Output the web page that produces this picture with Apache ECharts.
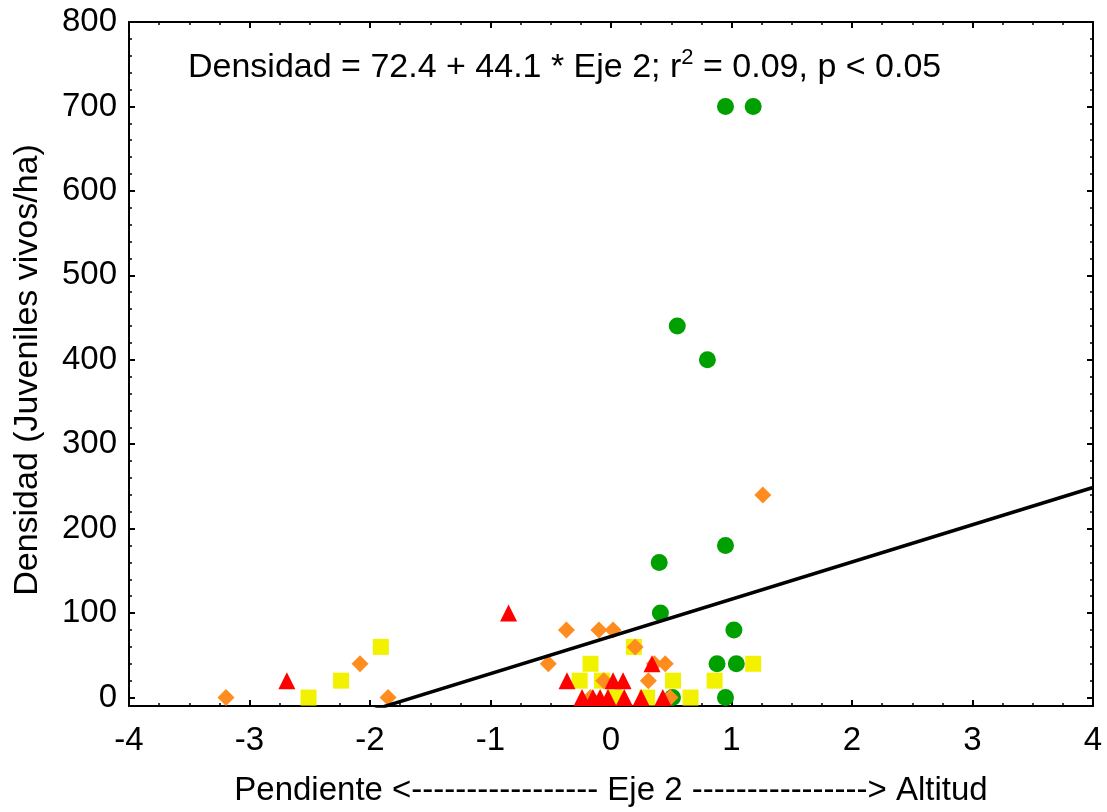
<!DOCTYPE html>
<html>
<head>
<meta charset="utf-8">
<title>Densidad vs Eje 2</title>
<script src="https://cdn.jsdelivr.net/npm/echarts@6/dist/echarts.min.js"></script>
<style>
  html, body { margin: 0; padding: 0; background: #ffffff; }
  #chart { width: 1107px; height: 812px; }
</style>
</head>
<body>
<div id="chart"></div>
<script>
// Eje 2 scores (x) and juvenile density (y) for each group of plots
const greenX = [0.95, 1.18, 0.55, 0.80, 0.40, 0.95, 0.41, 1.02, 0.88, 1.04, 0.95, 0.51];
const greenY = [700, 700, 440, 400, 160, 180, 100, 80, 40, 40, 0, 0];

const yellowX = [-2.51, -2.24, -1.91, -0.17, -0.26, -0.075, 0.19, 0.515, 0.86, 1.18, 0.66, 0.30, 0.03];
const yellowY = [0, 20, 60, 40, 20, 20, 60, 20, 20, 40, 0, 0, 0];

const orangeX = [-3.195, -2.083, -1.85, -0.52, -0.37, -0.10, 0.017, 0.20, -0.06, 0.31, 0.45, 0.36, 0.49, 1.26, -0.17];
const orangeY = [0, 40, 0, 40, 80, 80, 80, 60, 20, 20, 40, 40, 0, 240, 0];

const redX = [-2.69, -0.85, -0.365, 0.017, 0.10, 0.34, -0.24, -0.15, -0.09, -0.025, 0.11, 0.25, 0.43];
const redY = [20, 100, 20, 20, 20, 40, 0, 0, 0, 0, 0, 0, 0];

// Fitted regression: Densidad = 72.4 + 44.1 * Eje 2
const fitIntercept = 72.4;
const fitSlope = 44.1;
const fitRangeX = [-4, 4];

// Axis ticks
const xTicks = [-4, -3, -2, -1, 0, 1, 2, 3, 4];
const yTicks = [0, 100, 200, 300, 400, 500, 600, 700, 800];
const yMinorStep = 20;

const xAxisTitle = 'Pendiente <----------------- Eje 2 ----------------> Altitud';
const yAxisTitle = 'Densidad (Juveniles vivos/ha)';
const fitText = ['Densidad = 72.4 + 44.1 * Eje 2; r', '2', ' = 0.09, p < 0.05'];

const yMinorTicks = [];
for (let v = yTicks[0]; v <= yTicks[yTicks.length - 1]; v += yMinorStep) yMinorTicks.push(v);

const pairs = (xs, ys) => xs.map((x, i) => [x, ys[i]]);
const fitLine = fitRangeX.map(x => [x, fitIntercept + fitSlope * x]);

const FONT = '"Liberation Sans", Arial, sans-serif';
const BLACK = '#000000';
const TICK_FONT = 33;
const NAME_FONT = 33;

const xBase = {
  type: 'value',
  min: xTicks[0],
  max: xTicks[xTicks.length - 1],
  interval: 1,
  axisLine: { show: true, onZero: false, lineStyle: { color: BLACK, width: 2 } },
  axisTick: { show: true, inside: true, length: 6, lineStyle: { color: BLACK, width: 2 } },
  minorTick: { show: true, splitNumber: 4, length: 3, lineStyle: { color: BLACK, width: 1.5 } },
  splitLine: { show: false },
  minorSplitLine: { show: false }
};

const yBase = {
  type: 'value',
  min: -10,
  max: 800,
  axisLine: { show: true, onZero: false, lineStyle: { color: BLACK, width: 2 } },
  splitLine: { show: false }
};

const chart = echarts.init(document.getElementById('chart'), null, { renderer: 'canvas' });

chart.setOption({
  backgroundColor: '#ffffff',
  animation: false,
  graphic: [
    {
      // regression equation
      type: 'text',
      x: 188,
      y: 66,
      z: 10,
      style: {
        text: '{a|' + fitText[0] + '}{s|' + fitText[1] + '}{a|' + fitText[2] + '}',
        align: 'left',
        verticalAlign: 'middle',
        rich: {
          a: { fontSize: 34, fontFamily: FONT, fill: BLACK, lineHeight: 38, verticalAlign: 'bottom' },
          s: { fontSize: 22, fontFamily: FONT, fill: BLACK, lineHeight: 38, verticalAlign: 'top' }
        }
      }
    },
    {
      // vertical axis title
      type: 'text',
      x: 28,
      y: 370,
      rotation: Math.PI / 2,
      z: 10,
      style: {
        text: yAxisTitle,
        align: 'center',
        verticalAlign: 'middle',
        fontSize: 34,
        fontFamily: FONT,
        fill: BLACK
      }
    }
  ],
  grid: { left: 129, right: 14, top: 22, bottom: 105, containLabel: false },
  xAxis: [
    Object.assign({}, xBase, {
      position: 'bottom',
      axisLabel: { show: true, fontSize: TICK_FONT, fontFamily: FONT, color: BLACK, margin: 18 },
      name: xAxisTitle,
      nameLocation: 'middle',
      nameGap: 68,
      nameTextStyle: { fontSize: NAME_FONT, fontFamily: FONT, color: BLACK }
    }),
    Object.assign({}, xBase, {
      position: 'top',
      axisLabel: { show: false }
    })
  ],
  yAxis: [
    Object.assign({}, yBase, {
      position: 'left',
      axisTick: { show: true, inside: true, length: 6, customValues: yTicks, lineStyle: { color: BLACK, width: 2 } },
      axisLabel: { show: true, customValues: yTicks, fontSize: TICK_FONT, fontFamily: FONT, color: BLACK, margin: 12 }
    }),
    Object.assign({}, yBase, {
      position: 'left',
      axisLine: { show: false, onZero: false },
      axisTick: { show: true, inside: true, length: 3, customValues: yMinorTicks, lineStyle: { color: BLACK, width: 1.5 } },
      axisLabel: { show: false }
    }),
    Object.assign({}, yBase, {
      position: 'right',
      axisTick: { show: true, inside: true, length: 6, customValues: yTicks, lineStyle: { color: BLACK, width: 2 } },
      axisLabel: { show: false }
    }),
    Object.assign({}, yBase, {
      position: 'right',
      axisLine: { show: false, onZero: false },
      axisTick: { show: true, inside: true, length: 3, customValues: yMinorTicks, lineStyle: { color: BLACK, width: 1.5 } },
      axisLabel: { show: false }
    })
  ],
  series: [
    {
      name: 'verde', type: 'scatter', symbol: 'circle', symbolSize: 17, z: 2,
      itemStyle: { color: '#00a000', opacity: 1 },
      data: pairs(greenX, greenY)
    },
    {
      name: 'amarillo', type: 'scatter', symbol: 'rect', symbolSize: 16, z: 3,
      itemStyle: { color: '#f2f200', opacity: 1 },
      data: pairs(yellowX, yellowY)
    },
    {
      name: 'naranja', type: 'scatter', symbol: 'diamond', symbolSize: [17, 17], z: 4,
      itemStyle: { color: '#ff8c1e', opacity: 1 },
      data: pairs(orangeX, orangeY)
    },
    {
      name: 'rojo', type: 'scatter', symbol: 'triangle', symbolSize: 17, z: 5,
      itemStyle: { color: '#ff0000', opacity: 1 },
      data: pairs(redX, redY)
    },
    {
      name: 'ajuste', type: 'line', z: 6, clip: true,
      showSymbol: false, symbol: 'none',
      lineStyle: { color: BLACK, width: 3.5 },
      data: fitLine
    }
  ]
});
</script>
</body>
</html>
